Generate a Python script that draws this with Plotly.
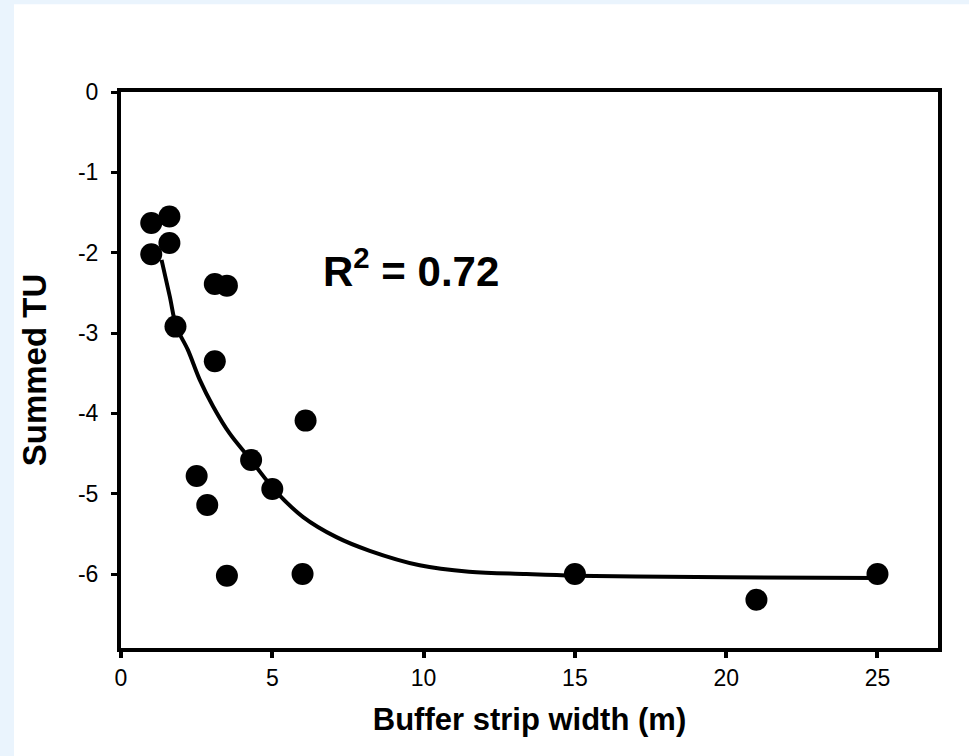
import plotly.graph_objects as go

# Observed data (buffer strip width in m, summed TU)
width_m = [1.0, 1.0, 1.6, 1.6, 1.8, 2.5, 2.85, 3.1, 3.1, 3.5, 3.5, 4.3, 5.0, 6.0, 6.1, 15.0, 21.0, 25.0]
summed_tu = [-1.63, -2.02, -1.55, -1.88, -2.92, -4.78, -5.14, -2.39, -3.35, -2.41, -6.02, -4.58, -4.94, -6.00, -4.09, -6.00, -6.32, -6.00]

# Fitted curve
fit_x = [1.34, 1.61, 1.83, 2.21, 2.60, 3.04, 3.59, 4.25, 5.14, 6.02, 7.12, 8.22, 9.87, 11.5, 13.4, 15.0, 17.0, 20.0, 25.0]
fit_y = [-2.09, -2.54, -2.92, -3.21, -3.58, -3.91, -4.25, -4.56, -4.98, -5.29, -5.54, -5.71, -5.89, -5.97, -6.00, -6.02, -6.03, -6.04, -6.05]

x_ticks = [0, 5, 10, 15, 20, 25]
x_labels = ["0", "5", "10", "15", "20", "25"]
y_ticks = [0, -1, -2, -3, -4, -5, -6]
y_labels = ["0", "-1", "-2", "-3", "-4", "-5", "-6"]

fig = go.Figure()
fig.add_trace(go.Scatter(x=fit_x, y=fit_y, mode="lines",
                         line=dict(color="black", width=4, shape="spline", smoothing=1),
                         hoverinfo="skip", showlegend=False))
fig.add_trace(go.Scatter(x=width_m, y=summed_tu, mode="markers",
                         marker=dict(color="black", size=22, line=dict(width=0)),
                         showlegend=False))

font_family = "Liberation Sans, Arial, sans-serif"

fig.add_annotation(x=6.6, y=-2.19, xref="x", yref="y", text="<b>R<sup>2</sup> = 0.72</b>",
                   showarrow=False, xanchor="left", yanchor="middle",
                   font=dict(family=font_family, size=42, color="black"))

# white panel on light-blue page
fig.add_shape(type="rect", xref="paper", yref="paper",
              x0=-0.131, x1=1.05, y0=-0.3, y1=1.158,
              fillcolor="white", line=dict(width=0), layer="below")

fig.update_xaxes(range=[0, 27], tickvals=x_ticks, ticktext=x_labels, ticks="outside",
                 ticklen=6, tickwidth=4, tickcolor="black",
                 showline=True, linewidth=4, linecolor="black", mirror=True,
                 showgrid=False, zeroline=False,
                 tickfont=dict(family=font_family, size=23, color="black"),
                 title=dict(text="<b>Buffer strip width (m)</b>", standoff=20,
                            font=dict(family=font_family, size=31, color="black")))
fig.update_yaxes(range=[-6.92, 0], tickvals=y_ticks, ticktext=y_labels, ticks="outside",
                 ticklen=6, tickwidth=3, tickcolor="black",
                 showline=True, linewidth=4, linecolor="black", mirror=True,
                 showgrid=False, zeroline=False, ticklabelstandoff=8,
                 tickfont=dict(family=font_family, size=23, color="black"),
                 title=dict(text="<b>Summed TU</b>", standoff=22,
                            font=dict(family=font_family, size=33, color="black")))

fig.update_layout(width=969, height=756, margin=dict(l=121, r=31, t=92, b=108),
                  paper_bgcolor="#EAF4FD", plot_bgcolor="white")

fig.write_html("out.html", config={"displayModeBar": False},
               post_script="document.body.style.margin='0px';document.body.style.background='#EAF4FD';")
